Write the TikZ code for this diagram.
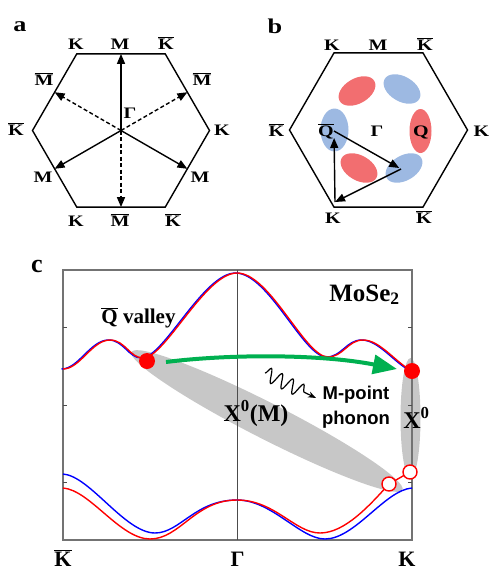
\documentclass[tikz,border=0pt]{standalone}
\usepackage{fontspec}
\setmainfont{Liberation Serif}
\newfontfamily\bzfont{Liberation Serif}[FakeStretch=1.25]
\newfontfamily\phfont{Liberation Sans}
\usetikzlibrary{arrows.meta,decorations.pathmorphing}
\definecolor{pocketred}{RGB}{242,110,112}
\definecolor{pocketblue}{RGB}{157,185,226}
\definecolor{bandred}{RGB}{255,0,0}
\definecolor{bandblue}{RGB}{0,0,255}
\definecolor{hopgreen}{RGB}{0,176,80}
\newcommand{\ob}[1]{$\overline{\hbox{#1}}$}

\begin{document}
\begin{tikzpicture}[x=1pt,y=-1pt,
  bz/.style={font=\bzfont\bfseries\fontsize{16}{16}\selectfont, inner sep=0pt, anchor=base},
  letter/.style={font=\bzfont\bfseries\fontsize{21}{21}\selectfont, inner sep=0pt, anchor=base},
  hexline/.style={line width=1.4pt, line join=miter},
  vec/.style={line width=1.4pt, -{Triangle[length=10pt,width=8pt]}},
  dvec/.style={vec, dash pattern=on 4pt off 2.5pt},
  band/.style={line width=1.4pt},
  frame/.style={draw=black!55, line width=1.2pt},
  exciton/.style={fill=black!22},
  axislbl/.style={font=\bfseries\fontsize{22}{22}\selectfont, inner sep=0pt, anchor=base},
  big/.style={font=\bfseries\fontsize{24}{24}\selectfont, inner sep=0pt, anchor=base},
  phtext/.style={font=\phfont\bfseries\fontsize{18.5}{18.5}\selectfont, inner sep=0pt, anchor=base},
  hop/.style={draw=hopgreen, line width=4pt, -{Triangle[length=24pt,width=19pt]}},
  phonon/.style={line width=1.2pt, decorate,
    decoration={snake, amplitude=7pt, segment length=12pt, post length=9pt},
    -{Stealth[length=8pt,width=6pt]}},
  filledpt/.style={fill=bandred},
  openpt/.style={draw=bandred, fill=white, line width=1.4pt}
]
\useasboundingbox (0,0) rectangle (488,571);

% panel a
\coordinate (ga) at (121,130.5);
\coordinate (mt) at (121,53.9);
\coordinate (mul) at (54.6,92.2);
\coordinate (mll) at (54.6,168.8);
\coordinate (mb) at (121,207.1);
\coordinate (mlr) at (187.4,168.8);
\coordinate (mur) at (187.4,92.2);
\draw[hexline] (76.75,53.9) -- (165.25,53.9) -- (209.5,130.5) -- (165.25,207.1)
  -- (76.75,207.1) -- (32.5,130.5) -- cycle;
\foreach \c/\st in {mt/vec, mul/dvec, mll/vec, mb/dvec, mlr/vec, mur/dvec}
  \draw[\st] (ga) -- (\c);
\node[letter] (la) at (20,31) {a};
\node[bz] (ka1) at (76,49) {K};
\node[bz] (ma1) at (120,49) {M};
\node[bz] (kb1) at (166,49) {\ob{K}};
\node[bz] (mb1) at (44,85) {\ob{M}};
\node[bz] (mb2) at (202,85) {\ob{M}};
\node[bz] (kb2) at (16,135) {\ob{K}};
\node[bz] (ka2) at (222,135) {K};
\node[bz] (ma2) at (43,182) {M};
\node[bz] (ma3) at (200,182) {M};
\node[bz] (ka3) at (76,226) {K};
\node[bz] (mb3) at (120,226) {\ob{M}};
\node[bz] (kb3) at (173,226) {\ob{K}};
\node[bz] (gma) at (130,118) {Γ};

% panel b
\fill[pocketred, rotate around={30:(357,91)}] (357,91) ellipse [x radius=20, y radius=12.5];
\fill[pocketblue, rotate around={-30:(402,89)}] (402,89) ellipse [x radius=20, y radius=12.5];
\fill[pocketblue] (334.5,130) ellipse [x radius=14, y radius=21.5];
\fill[pocketred] (420.5,131) ellipse [x radius=11, y radius=22];
\fill[pocketred, rotate around={-30:(359,168)}] (359,168) ellipse [x radius=20, y radius=12.5];
\fill[pocketblue, rotate around={30:(404,168)}] (404,168) ellipse [x radius=20, y radius=12.5];
\draw[hexline] (334,52.9) -- (423,52.9) -- (467.5,130) -- (423,207.1)
  -- (334,207.1) -- (289.5,130) -- cycle;
\coordinate (qbar) at (334,131);
\coordinate (qlow) at (401,169);
\coordinate (kcorn) at (335,202);
\draw[vec, shorten >=2pt] (qbar) -- (qlow);
\draw[vec] (qlow) -- (kcorn);
\draw[vec, shorten >=7pt] (kcorn) -- (qbar);
\node[letter] (lb) at (275,33) {b};
\node[bz] (kt1) at (332,50) {K};
\node[bz] (mt1) at (378,50) {M};
\node[bz] (kt2) at (425,50) {\ob{K}};
\node[bz] (kt3) at (276.5,136) {\ob{K}};
\node[bz] (kt4) at (481.5,136) {K};
\node[bz] (kt5) at (333,223) {K};
\node[bz] (kt6) at (424,223) {\ob{K}};
\node[bz] (qb) at (326,136) {\ob{Q}};
\node[bz] (gmb) at (377,136) {Γ};
\node[bz] (qq) at (421,136) {Q};

% panel c
\fill[exciton, rotate around={-27:(267,421)}] (267,421) ellipse [x radius=152, y radius=18];
\fill[exciton] (410.5,418) ellipse [x radius=10, y radius=60];
\draw[frame] (63,270) rectangle (412,540);
\draw[black!70, line width=0.8pt] (237,270) -- (237,540);
\foreach \t in {327,405,482} {
  \draw[black!70, line width=0.8pt] (63,\t) -- ++(4,0);
  \draw[black!70, line width=0.8pt] (412,\t) -- ++(-4,0);
}
\draw[band, bandblue, xshift=-1.5pt] (63,369) .. controls (80,369) and (92,340) .. (110,340)
  .. controls (125,340) and (130,358) .. (143,358)
  .. controls (165,358) and (205,273) .. (237,273)
  .. controls (270,273) and (305,357) .. (328,357)
  .. controls (343,357) and (348,340) .. (363,340)
  .. controls (380,340) and (395,362) .. (412,371);
\draw[band, bandred] (63,369) .. controls (80,369) and (92,340) .. (110,340)
  .. controls (125,340) and (130,358) .. (143,358)
  .. controls (165,358) and (205,273) .. (237,273)
  .. controls (270,273) and (305,357) .. (328,357)
  .. controls (343,357) and (348,340) .. (363,340)
  .. controls (380,340) and (395,362) .. (412,371);
\draw[band, bandblue] (63,474) .. controls (90,476) and (125,533) .. (155,533)
  .. controls (180,533) and (195,500) .. (237,500)
  .. controls (272,500) and (300,539) .. (325,539)
  .. controls (355,539) and (385,490) .. (412,488);
\draw[band, bandred] (63,488) .. controls (90,490) and (120,539) .. (150,539)
  .. controls (180,539) and (195,500) .. (237,500)
  .. controls (275,500) and (295,533) .. (320,533)
  .. controls (345,533) and (370,505) .. (389,484);
\coordinate (hole1) at (389,484);
\coordinate (hole2) at (410,472);
\draw[band, bandred] (hole1) -- (hole2);
\coordinate (qdot) at (147,361);
\coordinate (kdot) at (412,371);
\coordinate (hopstart) at (166,362);
\coordinate (hopend) at (397,369);
\draw[hop] (hopstart) .. controls (230,354) and (320,354) .. (hopend);
\coordinate (ph0) at (265,373);
\coordinate (ph1) at (316,398);
\draw[phonon] (ph0) -- (ph1);
\fill[filledpt] (qdot) circle (8);
\fill[filledpt] (kdot) circle (8);
\draw[openpt] (hole1) circle (7);
\draw[openpt] (hole2) circle (7);
\node[letter, font=\bfseries\fontsize{26}{26}\selectfont] (lc) at (37,272) {c};
\node[font=\bfseries\fontsize{25}{25}\selectfont, inner sep=0pt, anchor=base] (mose) at (364.5,301) {MoSe\textsubscript{2}};
\node[font=\bfseries\fontsize{21}{21}\selectfont, inner sep=0pt, anchor=base] (qval) at (138.5,323) {\ob{Q} valley};
\node[big] (xm) at (256,421) {X\textsuperscript{0}(M)};
\node[big] (xk) at (416.5,428) {X\textsuperscript{0}};
\node[phtext] (mpt) at (356,399) {M-point};
\node[phtext] (phn) at (356,424) {phonon};
\node[axislbl] (kbx) at (63,566) {\ob{K}};
\node[axislbl] (gx) at (237.5,566) {Γ};
\node[axislbl] (kx) at (407,566) {K};
\end{tikzpicture}
\end{document}
